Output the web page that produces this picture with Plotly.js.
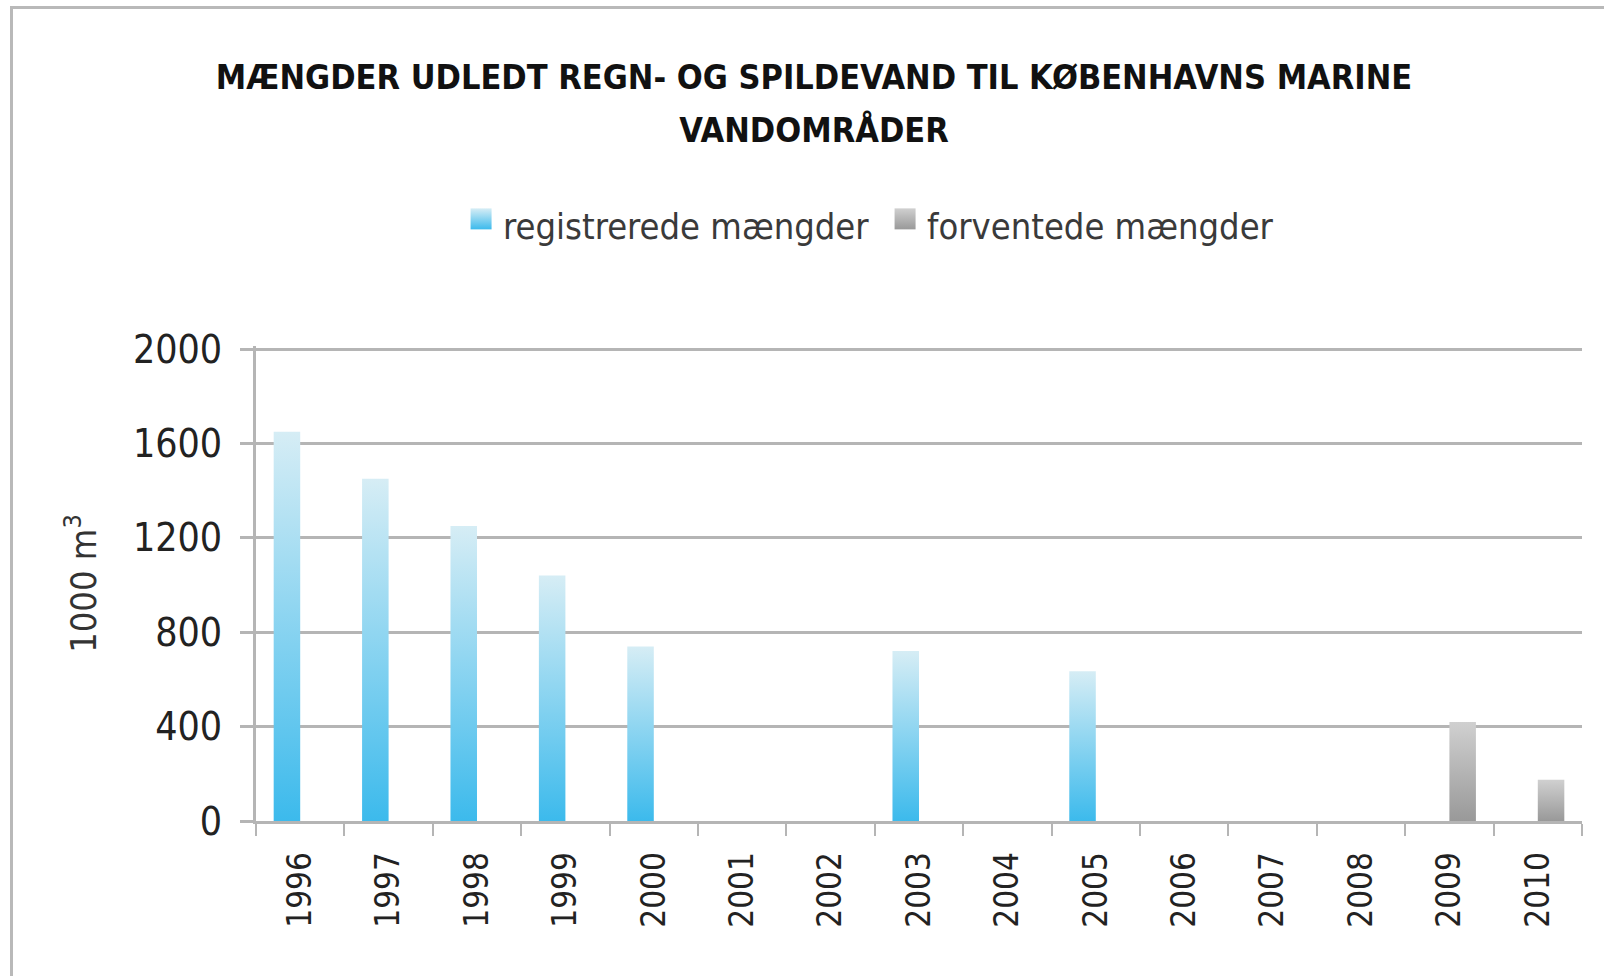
<!DOCTYPE html>
<html>
<head>
<meta charset="utf-8">
<script src="https://cdn.plot.ly/plotly-3.0.1.min.js"></script>
<style>
  html, body { margin: 0; padding: 0; background: #fff; }
  #wrap { position: relative; width: 1604px; height: 976px; overflow: hidden; }
  #chart { width: 1604px; height: 976px; }
  #frame { position: absolute; left: 10px; top: 6px; width: 1600px; height: 980px;
           border-top: 3px solid #b9b9b9; border-left: 3px solid #b9b9b9; pointer-events: none; }
</style>
</head>
<body>
<div id="wrap">
  <div id="chart"></div>
  <div id="frame"></div>
</div>
<script>
// ---- data ----
var years = ['1996','1997','1998','1999','2000','2001','2002','2003','2004','2005','2006','2007','2008','2009','2010'];
var registrerede = [1650, 1450, 1250, 1040, 740, null, null, 720, null, 635, null, null, null, null, null];
var forventede   = [null, null, null, null, null, null, null, null, null, null, null, null, null, 420, 175];
var seriesNames = ['registrerede mængder', 'forventede mængder'];
var yTicks = [0, 400, 800, 1200, 1600, 2000];
var titleLines = ['MÆNGDER UDLEDT REGN- OG SPILDEVAND TIL KØBENHAVNS MARINE', 'VANDOMRÅDER'];

var traces = [
  { type: 'bar', name: seriesNames[0], x: years, y: registrerede,
    marker: { color: '#7fcdee', line: { width: 0 } }, hoverinfo: 'x+y' },
  { type: 'bar', name: seriesNames[1], x: years, y: forventede,
    marker: { color: '#b3b3b3', line: { width: 0 } }, hoverinfo: 'x+y' }
];

var cond = 'DejaVu Sans Condensed, DejaVu Sans, sans-serif';

var layout = {
  width: 1604, height: 976,
  paper_bgcolor: '#ffffff', plot_bgcolor: '#ffffff',
  margin: { l: 256, r: 22, t: 346, b: 155 },
  barmode: 'group', bargap: 0.4, bargroupgap: 0,
  title: {
    text: '<span style="font-size:34px">' + titleLines[0] + '</span><br><span style="font-size:34px">' + titleLines[1] + '</span>',
    font: { family: cond, size: 41, color: '#111111', weight: 'bold' },
    xref: 'container', x: 0.5075, xanchor: 'center',
    yref: 'container', y: 0.909, yanchor: 'middle'
  },
  showlegend: true,
  legend: {
    orientation: 'h', xref: 'container', yref: 'container',
    x: 0.2887, xanchor: 'left', y: 0.7695, yanchor: 'middle',
    entrywidth: 379, entrywidthmode: 'pixels',
    font: { family: cond, size: 36, color: '#3a3a3a' },
    bgcolor: 'rgba(0,0,0,0)', traceorder: 'normal', itemclick: false
  },
  xaxis: {
    type: 'category', categoryorder: 'array', categoryarray: years,
    showline: true, linecolor: '#b5b5b5', linewidth: 3,
    ticks: 'outside', tickson: 'boundaries', ticklen: 12, tickwidth: 2, tickcolor: '#b5b5b5',
    tickangle: -90, ticklabelstandoff: 15,
    tickfont: { family: cond, size: 33, color: '#222222' },
    showgrid: false, zeroline: false, fixedrange: true
  },
  yaxis: {
    range: [0, 2013], tickmode: 'array', tickvals: yTicks, ticktext: yTicks.map(String),
    showline: true, linecolor: '#b5b5b5', linewidth: 3,
    ticks: 'outside', ticklen: 13, tickwidth: 3, tickcolor: '#b5b5b5',
    ticklabelstandoff: 10,
    tickfont: { family: cond, size: 39, color: '#222222' },
    showgrid: true, gridcolor: '#b5b5b5', gridwidth: 3,
    zeroline: false, fixedrange: true,
    title: { text: '1000 m<sup>3</sup>', font: { family: cond, size: 36, color: '#333333' }, standoff: 26 }
  }
};

function addGradients() {
  var gd = document.getElementById('chart');
  var svg = gd.querySelector('.main-svg');
  if (!svg) return;
  var ns = 'http://www.w3.org/2000/svg';
  var defs = svg.querySelector('defs');
  if (!defs) { defs = document.createElementNS(ns, 'defs'); svg.insertBefore(defs, svg.firstChild); }
  function grad(id, top, bottom) {
    if (defs.querySelector('#' + id)) return;
    var g = document.createElementNS(ns, 'linearGradient');
    g.setAttribute('id', id); g.setAttribute('x1', '0'); g.setAttribute('y1', '0');
    g.setAttribute('x2', '0'); g.setAttribute('y2', '1');
    [[0, top], [1, bottom]].forEach(function (s) {
      var st = document.createElementNS(ns, 'stop');
      st.setAttribute('offset', s[0]); st.setAttribute('stop-color', s[1]);
      g.appendChild(st);
    });
    defs.appendChild(g);
  }
  grad('gradBlue', '#d6edf5', '#3cbaec');
  grad('gradGray', '#d0d0d0', '#999999');
  var ids = ['gradBlue', 'gradGray'];
  gd.querySelectorAll('.barlayer .trace.bars').forEach(function (t, i) {
    t.querySelectorAll('path').forEach(function (p) { p.style.fill = 'url(#' + ids[i % 2] + ')'; });
  });
  gd.querySelectorAll('.legend .traces').forEach(function (t, i) {
    t.querySelectorAll('.legendpoints path').forEach(function (p) {
      p.style.fill = 'url(#' + ids[i % 2] + ')';
      p.removeAttribute('transform');
      p.setAttribute('d', 'M7.5,-16.5H28.5V4.5H7.5Z');
    });
  });
}

Plotly.newPlot('chart', traces, layout, { displayModeBar: false, staticPlot: true }).then(function (gd) {
  addGradients();
  gd.on('plotly_afterplot', addGradients);
});
</script>
</body>
</html>
